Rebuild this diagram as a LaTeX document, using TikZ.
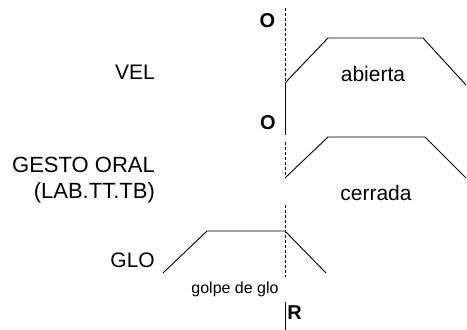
\documentclass[tikz,border=0pt]{standalone}
\usepackage{fontspec}
\setmainfont{Liberation Sans}
\usepackage{tikz}
\usetikzlibrary{positioning}

\begin{document}
\begin{tikzpicture}[x=1pt, y=-1pt,
  lbl/.style={font=\fontsize{21}{23}\selectfont, inner sep=0pt},
  lft/.style={lbl, anchor=east},
  mk/.style={font=\fontsize{20}{22}\selectfont\bfseries, inner sep=0pt},
  tr/.style={line width=0.9pt},
  ax/.style={line width=0.6pt},
  axd/.style={ax, densely dashed}]
\useasboundingbox (0,0) rectangle (467,330);
% labels on the left
\node[lft] (vel) at (155,72) {VEL};
\node[lft, font=\fontsize{22}{24}\selectfont] (oral) at (155,165) {GESTO ORAL};
\node[lft, font=\fontsize{22}{24}\selectfont] (oralsub) at (155,193) {(LAB.TT.TB)};
\node[lft] (glo) at (155,260) {GLO};
% state labels
\node[lbl] (abierta) at (373,74) {abierta};
\node[lbl] (cerrada) at (376,193) {cerrada};
\node[lbl, font=\fontsize{16}{18}\selectfont] (golpe) at (235,289) {golpe de glo};
\node[mk] (o1) at (267.5,21) {O};
\node[mk] (o2) at (268,123) {O};
\node[mk] (r) at (294.5,313) {R};
% reference line
\draw[axd] (285,8) -- (285,83);
\draw[ax] (285,83) -- (285,135);
\draw[axd] (285,142) -- (285,178);
\draw[axd] (285,205) -- (285,277);
\draw[ax] (285,302) -- (285,330);
% gestures
\draw[tr] (285,83) -- (328,38) -- (423,38) -- (466,85);
\draw[tr] (285,178) -- (328,137) -- (425,137) -- (466,178);
\draw[tr] (163,273) -- (207,231) -- (285,231) -- (326,273);
\end{tikzpicture}
\end{document}
